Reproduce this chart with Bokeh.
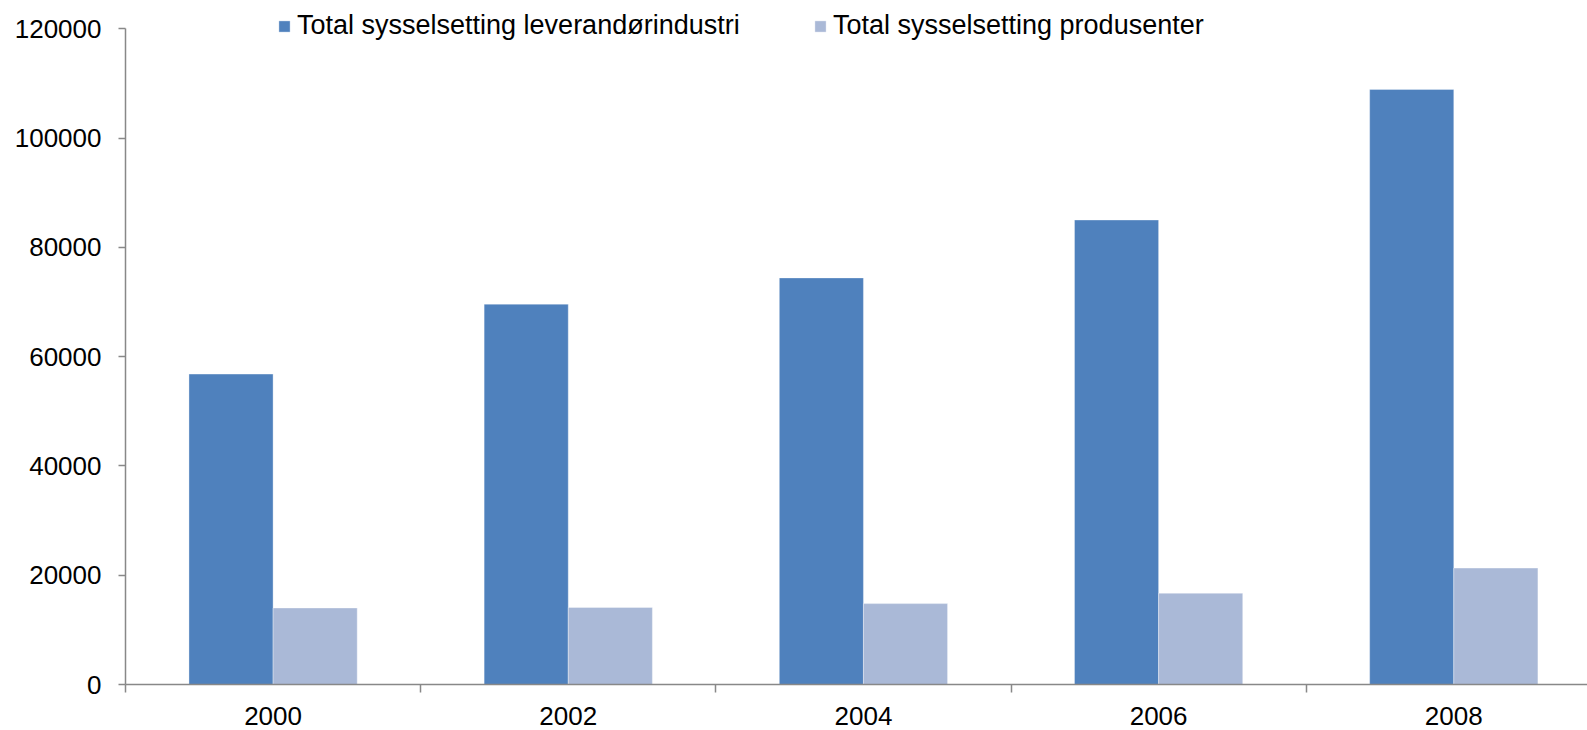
from bokeh.plotting import figure
from bokeh.models import Range1d, FixedTicker, NumeralTickFormatter, Legend, LegendItem, ColumnDataSource
from bokeh.transform import dodge
from bokeh.embed import file_html
from bokeh.resources import INLINE

years = ["2000", "2002", "2004", "2006", "2008"]
leverandor = [56800, 69600, 74400, 85000, 108900]
produsenter = [14000, 14100, 14800, 16700, 21300]
series_names = ["Total sysselsetting leverandørindustri", "Total sysselsetting produsenter"]
y_ticks = [0, 20000, 40000, 60000, 80000, 100000, 120000]

FONT = "Liberation Sans"
DARK = "#4F81BD"
LIGHT = "#AAB9D7"
AX = "#888888"

idx = list(range(len(years)))
bw = 0.285
src = ColumnDataSource(dict(x=idx, lev=leverandor, prod=produsenter))

p = figure(frame_width=1462, frame_height=676, output_backend="svg", toolbar_location=None,
           x_range=Range1d(-0.5, 4.453), y_range=Range1d(0, 123700),
           min_border_left=125, min_border_right=0, min_border_top=8, min_border_bottom=46)
p.outline_line_color = None
p.xgrid.visible = False
p.ygrid.visible = False

r1 = p.vbar(x=dodge("x", -bw / 2, range=p.x_range), top="lev", width=bw, source=src,
            fill_color=DARK, line_color="#ffffff", line_alpha=0.35, line_width=1)
r2 = p.vbar(x=dodge("x", bw / 2, range=p.x_range), top="prod", width=bw, source=src,
            fill_color=LIGHT, line_color="#ffffff", line_alpha=0.35, line_width=1)

# y axis
p.yaxis.ticker = FixedTicker(ticks=y_ticks)
p.yaxis.formatter = NumeralTickFormatter(format="0")
p.yaxis.bounds = (0, 120000)
p.yaxis.axis_line_color = AX
p.yaxis.axis_line_width = 1.5
p.yaxis.major_tick_line_color = AX
p.yaxis.major_tick_line_width = 1.5
p.yaxis.major_tick_out = 7
p.yaxis.major_tick_in = 0
p.yaxis.minor_tick_line_color = None
p.yaxis.major_label_text_font = FONT
p.yaxis.major_label_text_font_size = "26px"
p.yaxis.major_label_text_color = "#000000"
p.yaxis.major_label_standoff = 17

# x axis
p.xaxis.ticker = FixedTicker(ticks=idx, minor_ticks=[i - 0.5 for i in range(len(years) + 1)])
p.xaxis.major_label_overrides = {i: y for i, y in enumerate(years)}
p.xaxis.axis_line_color = AX
p.xaxis.axis_line_width = 1.5
p.xaxis.major_tick_line_color = None
p.xaxis.major_tick_out = 0
p.xaxis.major_tick_in = 0
p.xaxis.minor_tick_line_color = AX
p.xaxis.minor_tick_line_width = 1.5
p.xaxis.minor_tick_out = 8
p.xaxis.minor_tick_in = 0
p.xaxis.major_label_text_font = FONT
p.xaxis.major_label_text_font_size = "26px"
p.xaxis.major_label_text_color = "#000000"
p.xaxis.major_label_standoff = 14

def make_legend(item_label, renderer, x):
    return Legend(items=[LegendItem(label=item_label, renderers=[renderer])],
                  location=(x, 643), orientation="horizontal",
                  border_line_color=None, background_fill_alpha=0,
                  padding=0, margin=0, glyph_width=14, glyph_height=14,
                  label_standoff=6, label_text_font=FONT, label_text_font_size="27px",
                  label_text_color="#000000", label_height=30)

p.add_layout(make_legend(series_names[0], r1, 152))
p.add_layout(make_legend(series_names[1], r2, 688))

open("out.html", "w").write(file_html(p, INLINE))
